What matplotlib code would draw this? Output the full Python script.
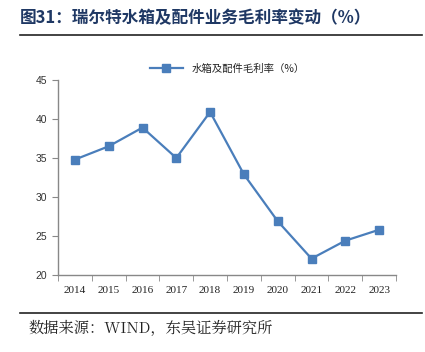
import matplotlib.pyplot as plt
import numpy as np

plt.rcParams['font.family'] = ['Noto Sans CJK SC', 'DejaVu Sans']

years = ['2014', '2015', '2016', '2017', '2018', '2019', '2020', '2021', '2022', '2023']
margin = [34.8, 36.5, 38.9, 35.0, 40.9, 32.9, 26.9, 22.1, 24.4, 25.8]

fig = plt.figure(figsize=(4.25, 3.52), dpi=100)
ax = fig.add_axes([58/425, 1-275/352, 338/425, 195/352])

x = np.arange(len(years))
ax.plot(x, margin, color='#4a7ebb', lw=1.6, marker='s', ms=6,
        mfc='#4a7ebb', mec='#4a7ebb', label='水箱及配件毛利率（%）')

ax.set_xlim(-0.5, len(years) - 0.5)
ax.set_ylim(20, 45)
ax.set_yticks([20, 25, 30, 35, 40, 45])
ax.set_yticklabels([20, 25, 30, 35, 40, 45], family='Liberation Sans', fontsize=7.5, color='#333333')
ax.set_xticks(x)
ax.set_xticklabels(years, family='Liberation Serif', fontsize=8, color='#222222')
ax.set_xticks(np.arange(len(years) + 1) - 0.5, minor=True)
ax.tick_params(axis='x', which='major', length=0, pad=8)
ax.tick_params(axis='x', which='minor', length=4, color='#888888')
ax.tick_params(axis='y', length=4, color='#888888', pad=4)
for s in ['top', 'right']:
    ax.spines[s].set_visible(False)
for s in ['left', 'bottom']:
    ax.spines[s].set_color('#888888')
    ax.spines[s].set_linewidth(1.0)

leg = ax.legend(loc='lower center', bbox_to_anchor=(0.5, 1.0), frameon=False,
                fontsize=7.5, handlelength=3.2, borderaxespad=0.2)
for t in leg.get_texts():
    t.set_color('#222222')

fig.text(20/425, 1-18/352, '图31：瑞尔特水箱及配件业务毛利率变动（%）', fontsize=12,
         fontweight='bold', color='#1f3864', va='center')
fig.add_artist(plt.Line2D([20/425, 422/425], [1-35/352, 1-35/352], color='#222222', lw=1.2))
fig.add_artist(plt.Line2D([20/425, 422/425], [1-313/352, 1-313/352], color='#222222', lw=1.2))
fig.text(28/425, 1-329/352, '数据来源：WIND，东吴证券研究所', fontsize=11,
         family=['Noto Serif CJK SC', 'Liberation Serif', 'Noto Sans CJK SC'], color='#222222', va='center')

fig.savefig('out.png', dpi=100)
